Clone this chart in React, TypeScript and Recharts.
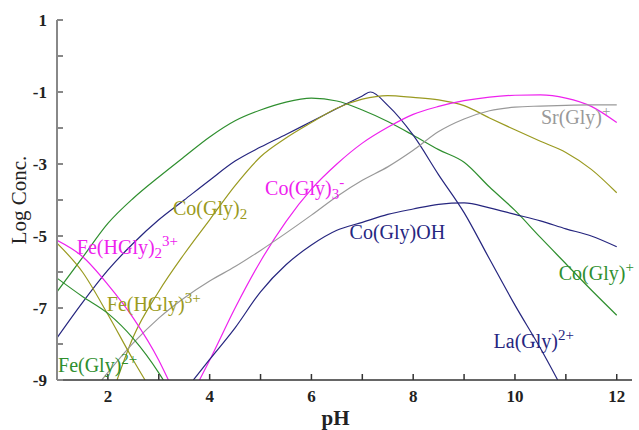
import React from 'react';
import { LineChart, Line, XAxis, YAxis, ReferenceDot, Label } from 'recharts';

// axis ticks
const xTicks = [1, 2, 3, 4, 5, 6, 7, 8, 9, 10, 11, 12];
const yTicks = [1, 0, -1, -2, -3, -4, -5, -6, -7, -8, -9];

// [pH, log conc]
const coGlyPlus = [
  [1, -6.55], [1.5, -5.6], [2, -4.65], [2.5, -3.95], [3, -3.36], [3.5, -2.8], [4, -2.25],
  [4.5, -1.8], [5, -1.5], [5.5, -1.28], [6, -1.17], [6.5, -1.25], [7, -1.5], [7.5, -1.82],
  [8, -2.2], [8.5, -2.6], [9, -2.95], [9.5, -3.64], [10, -4.29], [10.5, -5.04], [11, -5.77],
  [11.5, -6.5], [12, -7.2],
];
const laGly = [
  [1, -7.83], [1.5, -6.85], [2, -5.95], [2.5, -5.2], [3, -4.55], [3.5, -4.0], [4, -3.45],
  [4.5, -2.92], [5, -2.53], [5.5, -2.18], [6, -1.82], [6.5, -1.46], [7, -1.11], [7.16, -1.0],
  [7.5, -1.37], [8, -2.2], [8.5, -3.3], [9, -4.35], [9.5, -5.64], [10, -6.92], [10.5, -8.12],
  [10.84, -9],
];
const coGly2 = [
  [2.18, -9], [2.5, -7.8], [3, -6.54], [3.5, -5.5], [4, -4.55], [4.5, -3.6], [5, -2.8],
  [5.5, -2.28], [6, -1.85], [6.5, -1.45], [7, -1.2], [7.5, -1.1], [8, -1.15], [8.5, -1.22],
  [9, -1.38], [9.5, -1.72], [10, -2.05], [10.5, -2.37], [11, -2.68], [11.5, -3.15], [12, -3.8],
];
const coGly3 = [
  [3.8, -9], [4, -8.45], [4.5, -7.0], [5, -5.7], [5.5, -4.6], [6, -3.7], [6.5, -3.0],
  [7, -2.42], [7.5, -1.98], [8, -1.62], [8.5, -1.4], [9, -1.24], [9.5, -1.14], [10, -1.09],
  [10.5, -1.08], [11, -1.17], [11.5, -1.4], [12, -1.85],
];
const coGlyOH = [
  [3.68, -9], [4, -8.43], [4.5, -7.55], [5, -6.55], [5.5, -5.8], [6, -5.25], [6.5, -4.84],
  [7, -4.62], [7.5, -4.4], [8, -4.25], [8.5, -4.12], [9, -4.08], [9.5, -4.22], [10, -4.4],
  [10.5, -4.58], [11, -4.8], [11.5, -5.0], [12, -5.3],
];
const srGly = [
  [1.88, -9], [2.5, -7.97], [3, -7.28], [3.5, -6.72], [4, -6.25], [4.5, -5.85], [5, -5.4],
  [5.5, -4.92], [6, -4.42], [6.5, -3.9], [7, -3.45], [7.5, -3.08], [8, -2.62], [8.5, -2.1],
  [9, -1.75], [9.5, -1.52], [10, -1.42], [10.5, -1.39], [11, -1.37], [11.5, -1.36], [12, -1.36],
];
const feHGly2 = [[1, -5.12], [1.5, -5.57], [2, -6.35], [2.5, -7.28], [3, -8.45], [3.19, -9]];
const feHGly = [[1, -5.2], [1.5, -6.0], [2, -7.18], [2.5, -8.45], [2.73, -9]];
const feGly = [[1, -6.17], [1.5, -6.68], [2, -7.15], [2.5, -7.85], [3, -8.8], [3.09, -9]];

const GREEN = '#2f8f2f';
const OLIVE = '#9a9a20';
const MAGENTA = '#ee22ee';
const NAVY = '#26267f';
const GRAY = '#999999';

const rows = (pts: number[][]) => pts.map(([x, y]) => ({ x, y }));

const series = [
  { name: 'Co(Gly)+', pts: coGlyPlus, color: GREEN },
  { name: 'La(Gly)2+', pts: laGly, color: NAVY },
  { name: 'Co(Gly)2', pts: coGly2, color: OLIVE },
  { name: 'Co(Gly)3-', pts: coGly3, color: MAGENTA },
  { name: 'Co(Gly)OH', pts: coGlyOH, color: NAVY },
  { name: 'Sr(Gly)+', pts: srGly, color: GRAY },
  { name: 'Fe(HGly)2 3+', pts: feHGly2, color: MAGENTA },
  { name: 'Fe(HGly)3+', pts: feHGly, color: OLIVE },
  { name: 'Fe(Gly)2+', pts: feGly, color: GREEN },
];

// text pieces: 0 = normal, 1 = subscript, -1 = superscript
type Piece = [string, number];
const labels: { x: number; y: number; color: string; parts: Piece[] }[] = [
  { x: 3.28, y: -4.22, color: OLIVE, parts: [['Co(Gly)', 0], ['2', 1]] },
  { x: 5.09, y: -3.67, color: MAGENTA, parts: [['Co(Gly)', 0], ['3', 1], ['-', -1]] },
  { x: 6.75, y: -4.89, color: NAVY, parts: [['Co(Gly)OH', 0]] },
  { x: 10.51, y: -1.69, color: GRAY, parts: [['Sr(Gly)', 0], ['+', -1]] },
  { x: 10.86, y: -6.03, color: GREEN, parts: [['Co(Gly)', 0], ['+', -1]] },
  { x: 9.58, y: -7.92, color: NAVY, parts: [['La(Gly)', 0], ['2+', -1]] },
  { x: 1.39, y: -5.31, color: MAGENTA, parts: [['Fe(HGly)', 0], ['2', 1], ['3+', -1]] },
  { x: 1.98, y: -6.89, color: OLIVE, parts: [['Fe(HGly)', 0], ['3+', -1]] },
  { x: 1.02, y: -8.58, color: GREEN, parts: [['Fe(Gly)', 0], ['2+', -1]] },
];

const FONT = '"Liberation Serif", "Times New Roman", serif';

function formula(parts: Piece[], color: string) {
  return (props: any) => {
    let shift = 0;
    return (
      <text x={props.cx} y={props.cy} fill={color} fontFamily={FONT} fontSize={20} dominantBaseline="central">
        {parts.map(([t, kind], i) => {
          const target = kind === 1 ? 6 : kind === -1 ? -6 : 0;
          const dy = target - shift;
          shift = target;
          return (
            <tspan key={i} dy={dy} fontSize={kind === 0 ? 20 : 15}>
              {t}
            </tspan>
          );
        })}
      </text>
    );
  };
}

const tickStyle = { fontFamily: FONT, fontSize: 17, fontWeight: 'bold', fill: '#222' };

export default function App() {
  return (
    <div style={{ position: 'absolute', left: 0, top: 0, background: '#fff' }}>
      <LineChart width={639} height={430} margin={{ top: 20, right: 7, bottom: 0, left: 0 }}>
        <XAxis
          type="number"
          dataKey="x"
          domain={[1, 12.3]}
          ticks={xTicks}
          allowDataOverflow
          height={50}
          tickSize={-6}
          tickMargin={16}
          tickFormatter={(v: number) => (v % 2 === 0 ? String(v) : '')}
          tick={tickStyle}
          stroke="#333"
          strokeWidth={1.5}
        >
          <Label
            content={(p: any) => (
              <text x={p.viewBox.x + p.viewBox.width / 2 - 9} y={p.viewBox.y + 45} textAnchor="middle"
                fontFamily={FONT} fontSize={21} fontWeight="bold" fill="#222">pH</text>
            )}
          />
        </XAxis>
        <YAxis
          type="number"
          dataKey="y"
          domain={[-9, 1]}
          ticks={yTicks}
          allowDataOverflow
          width={57}
          tickSize={-6}
          tickMargin={16}
          tickFormatter={(v: number) => (Math.abs(v) % 2 === 1 ? String(v) : '')}
          tick={tickStyle}
          stroke="#888"
          strokeWidth={2}
        >
          <Label
            content={(p: any) => {
              const cx = p.viewBox.x + 19;
              const cy = p.viewBox.y + p.viewBox.height / 2;
              return (
                <text x={cx} y={cy} transform={`rotate(-90, ${cx}, ${cy})`} textAnchor="middle"
                  dominantBaseline="central" fontFamily={FONT} fontSize={21} fill="#222">Log Conc.</text>
              );
            }}
          />
        </YAxis>
        {series.map((s) => (
          <Line
            key={s.name}
            data={rows(s.pts)}
            dataKey="y"
            type="monotone"
            stroke={s.color}
            strokeWidth={1.2}
            dot={false}
            isAnimationActive={false}
          />
        ))}
        {labels.map((l, i) => (
          <ReferenceDot key={i} x={l.x} y={l.y} r={0} ifOverflow="visible" shape={formula(l.parts, l.color)} />
        ))}
      </LineChart>
    </div>
  );
}
